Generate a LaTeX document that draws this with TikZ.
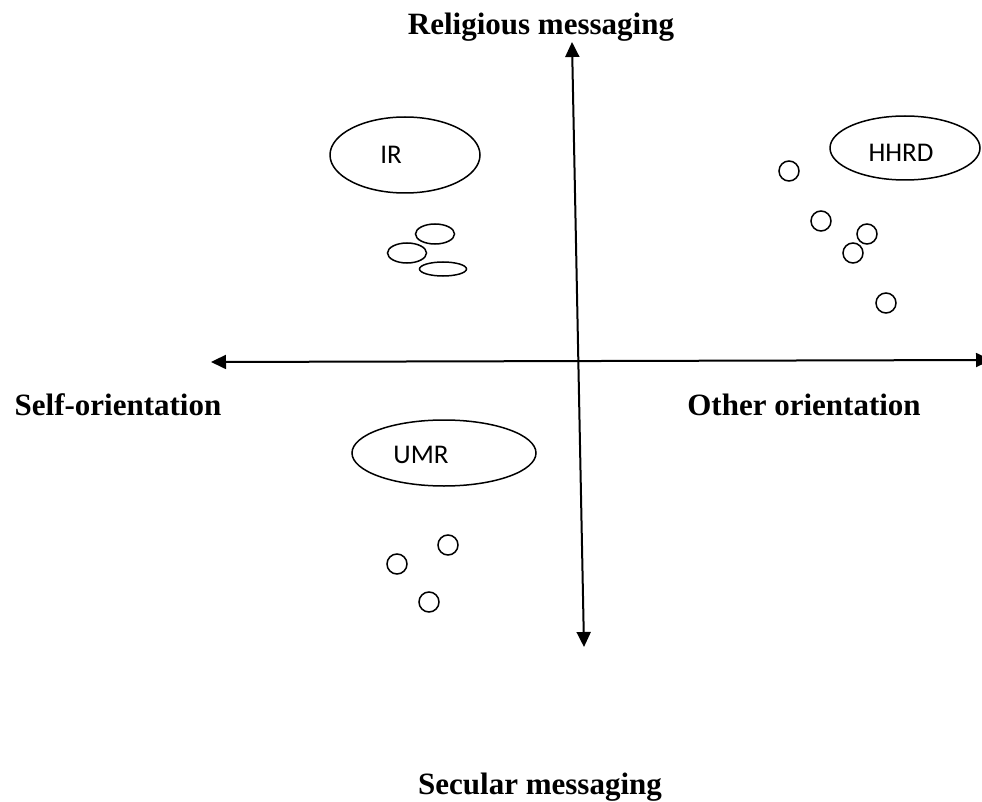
\documentclass[tikz,border=0pt]{standalone}
\usepackage{fontspec}
\setmainfont{Liberation Serif}
\newfontfamily\ovalfont{Carlito}
\usetikzlibrary{arrows.meta,shapes.geometric}
\begin{document}
\begin{tikzpicture}[x=1pt,y=-1pt,
  axis/.style={line width=2pt,{Triangle[length=15pt,width=14pt]}-{Triangle[length=15pt,width=14pt]}},
  oval/.style={draw,ellipse,line width=1.5pt,inner sep=0pt},
  dot/.style={draw,circle,line width=1.5pt,minimum size=20pt,inner sep=0pt},
  ovaltext/.style={font=\ovalfont\fontsize{27}{32}\selectfont,inner sep=0pt},
  axislabel/.style={font=\bfseries\fontsize{31}{36}\selectfont,inner sep=0pt,anchor=base}]
\useasboundingbox (0,0) rectangle (982,802);
\clip (0,0) rectangle (982,802);
% axes
\coordinate (top) at (572,42);
\coordinate (bot) at (584,647);
\coordinate (left) at (211,362);
\coordinate (right) at (991,360);
\draw[axis] (top) -- (bot);
\draw[axis] (left) -- (right);
% axis labels
\node[axislabel] (rel) at (541,35) {Religious messaging};
\node[axislabel] (self) at (118,415) {Self-orientation};
\node[axislabel] (other) at (804,415) {Other orientation};
\node[axislabel] (sec) at (540,794) {Secular messaging};
% IR group
\node[oval,minimum width=150pt,minimum height=76pt] (ir) at (405,155) {};
\node[ovaltext] (irt) at (391,155) {IR};
\node[oval,minimum width=39pt,minimum height=20pt] (ir1) at (435,234) {};
\node[oval,minimum width=39pt,minimum height=20pt] (ir2) at (407,253) {};
\node[oval,minimum width=47pt,minimum height=14pt] (ir3) at (443,269) {};
% HHRD group
\node[oval,minimum width=150pt,minimum height=64pt] (hh) at (905,148) {};
\node[ovaltext] (hht) at (901,153) {HHRD};
\node[dot] (h1) at (789,171) {};
\node[dot] (h2) at (821,221) {};
\node[dot] (h3) at (867,234) {};
\node[dot] (h4) at (853,253) {};
\node[dot] (h5) at (886,303) {};
% UMR group
\node[oval,minimum width=184pt,minimum height=66pt] (umr) at (444,453) {};
\node[ovaltext] (umrt) at (421,455) {UMR};
\node[dot] (u1) at (448,545) {};
\node[dot] (u2) at (397,564) {};
\node[dot] (u3) at (429,602) {};
\end{tikzpicture}
\end{document}
